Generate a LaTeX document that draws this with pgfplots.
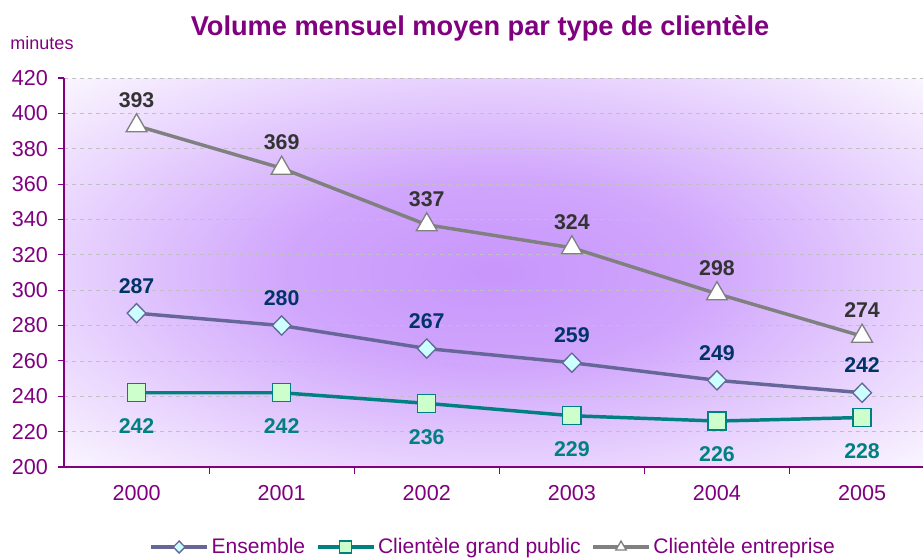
\documentclass[border=0pt]{standalone}
\usepackage{fontspec}
\setmainfont{Liberation Sans}
\usepackage{pgfplots}
\pgfplotsset{compat=1.18}
\definecolor{ttl}{HTML}{800080}
\definecolor{ensL}{HTML}{666699}
\definecolor{ensF}{HTML}{CCFFFF}
\definecolor{ensT}{HTML}{003366}
\definecolor{gpL}{HTML}{008080}
\definecolor{gpF}{HTML}{CCFFCC}
\definecolor{entL}{HTML}{808080}
\definecolor{entT}{HTML}{333333}
\definecolor{gridc}{HTML}{C0C0C0}
\definecolor{glowc}{RGB}{200,150,252}
\pgfdeclareradialshading{glow}{\pgfpoint{0bp}{0bp}}{color(0bp)=(glowc); color(12bp)=(glowc!85!white); color(25bp)=(glowc!42!white); color(35bp)=(glowc!10!white); color(43bp)=(glowc!3!white); color(50bp)=(glowc!2!white)}
\begin{document}
\begin{tikzpicture}
\useasboundingbox (0,0) rectangle (692.25pt,-418.5pt);
\node[font=\fontsize{20.4}{23}\selectfont\bfseries, text=ttl] at (360pt,-21.5pt) {Volume mensuel moyen par type de clientèle};
\node[font=\fontsize{13.5}{16}\selectfont, text=ttl] at (31.5pt,-32.5pt) {minutes};
\begin{axis}[
  at={(48pt,-350.25pt)}, anchor=south west,
  scale only axis, width=644.25pt, height=291.75pt,
  xmin=-0.5, xmax=5.42, ymin=200, ymax=420,
  axis x line*=bottom, axis y line*=left,
  axis line style={ttl, line width=0.8pt},
  xtick={0,1,2,3,4,5},
  xticklabels={2000,2001,2002,2003,2004,2005},
  minor xtick={0.5,1.5,2.5,3.5,4.5},
  major x tick style={draw=none},
  minor x tick style={ttl, line width=0.8pt},
  minor tick length=5pt,
  ytick={200,220,...,420},
  major y tick style={ttl, line width=0.8pt},
  major tick length=4.5pt,
  tick align=outside,
  ymajorgrids, major grid style={gridc, dashed, line width=0.6pt},
  /pgf/number format/assume math mode=true,
  tick label style={font=\fontsize{16.2}{19}\selectfont, text=ttl},
  xticklabel style={yshift=-6pt},
  yticklabel style={xshift=-4pt},
  axis background/.style={shade, shading=glow},
  clip=false,
  legend style={draw=none, fill=none, at={(0.5,-0.2057)}, anchor=center,
    font=\fontsize{15.8}{18}\selectfont, text=ttl, inner sep=0pt,
    /tikz/every even column/.append style={column sep=6pt}},
  legend columns=3,
  legend image code/.code={\draw[mark repeat=2,mark phase=2,#1,mark size=4.5pt] plot coordinates {(0pt,0pt) (21pt,0pt) (42pt,0pt)};},
  every node near coord/.append style={font=\fontsize{16}{18}\selectfont\bfseries, inner sep=0pt},
]
\addplot[ensL, line width=2.6pt, mark=diamond*, mark size=7.2pt,
  mark options={fill=ensF, draw=ensL, line width=1pt, xscale=1.3},
  nodes near coords, every node near coord/.append style={text=ensT, anchor=base, yshift=15pt}]
  coordinates {(0,287) (1,280) (2,267) (3,259) (4,249) (5,242)};
\addlegendentry{Ensemble}
\addplot[gpL, line width=2.6pt, mark=square*, mark size=6.8pt,
  mark options={fill=gpF, draw=gpL, line width=1pt},
  nodes near coords, every node near coord/.append style={text=gpL, anchor=north, yshift=-19pt}]
  coordinates {(0,242) (1,242) (2,236) (3,229) (4,226) (5,228)};
\addlegendentry{Clientèle grand public}
\addplot[entL, line width=2.6pt, mark=triangle*, mark size=9pt,
  mark options={fill=white, draw=entL, line width=1pt},
  nodes near coords, every node near coord/.append style={text=entT, anchor=base, yshift=14pt}]
  coordinates {(0,393) (1,369) (2,337) (3,324) (4,298) (5,274)};
\addlegendentry{Clientèle entreprise}
\end{axis}
\end{tikzpicture}
\end{document}
